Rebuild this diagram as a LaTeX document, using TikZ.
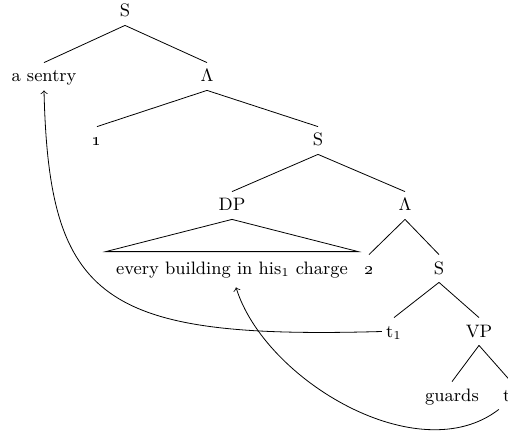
\documentclass[tikz,border=0pt]{standalone}

\tikzset{
  lbl/.style={anchor=base, text height=7.5pt, text depth=2pt, inner sep=2pt},
  move/.style={->}
}

\begin{document}
\begin{tikzpicture}[x=0.5pt,y=-0.5pt,font=\fontsize{9}{11}\selectfont]
\useasboundingbox (0,0) rectangle (508,438);

% tree nodes
\node[lbl] (s0) at (125,17) {S};
\node[lbl] (sentry) at (44,82) {a sentry};
\node[lbl] (lam1) at (207,82) {$\Lambda$};
\node[lbl] (one) at (97,146) {\oldstylenums{1}};
\node[lbl] (s1) at (318,146) {S};
\node[lbl] (dp) at (232,211) {DP};
\node[lbl] (lam2) at (405,211) {$\Lambda$};
\node[lbl,inner xsep=5pt] (roof) at (232,274) {every building in his$_1$ charge};
\node[lbl] (two) at (369,274) {\oldstylenums{2}};
\node[lbl] (s2) at (439,274) {S};
\node[lbl] (t1) at (394,337) {t$_1$};
\node[lbl] (vp) at (479,337) {VP};
\node[lbl] (guards) at (452,401) {guards};
\node[lbl] (t2) at (511,401) {t$_2$};

% branches
\draw (s0.south) -- (sentry.north);
\draw (s0.south) -- (lam1.north);
\draw (lam1.south) -- (one.north);
\draw (lam1.south) -- (s1.north);
\draw (s1.south) -- (dp.north);
\draw (s1.south) -- (lam2.north);
\draw (dp.south) -- ([yshift=1.5pt]roof.north west) -- ([yshift=1.5pt]roof.north east) -- cycle;
\draw (lam2.south) -- (two.north);
\draw (lam2.south) -- (s2.north);
\draw (s2.south) -- (t1.north);
\draw (s2.south) -- (vp.north);
\draw (vp.south) -- (guards.north);
\draw (vp.south) -- (t2.north);

% movement
\draw[move] (t1.west) .. controls +(-280,8) and +(5,210) .. (sentry.south);
\draw[move] (t2.south west) .. controls +(-80,62) and +(29,93) .. ([xshift=2pt,yshift=-2.5pt]roof.south);
\end{tikzpicture}
\end{document}
